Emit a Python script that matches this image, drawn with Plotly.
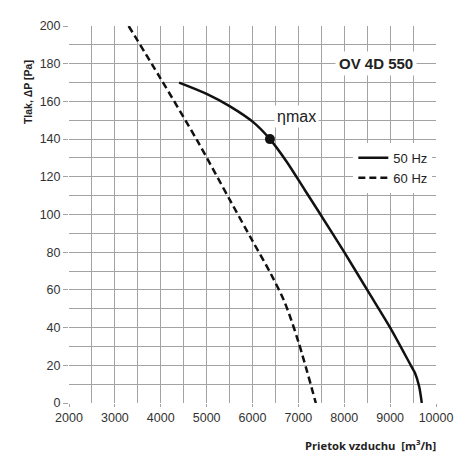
import plotly.graph_objects as go

# 50 Hz curve (solid)
flow_50 = [4400, 5000, 5500, 6015, 6380, 6745, 7140, 7430, 8000, 8500, 9000, 9450, 9540, 9630, 9690]
press_50 = [170, 164, 157.5, 149, 140, 128, 113, 102, 80, 60, 40, 20, 16, 9, 0]

# 60 Hz curve (dashed)
flow_60 = [3300, 4000, 4800, 5500, 6000, 6400, 6700, 7000, 7380]
press_60 = [200, 172, 139, 108, 86, 68.5, 53.5, 32.5, 0]

# point of max efficiency
eta_flow = [6380]
eta_press = [140]

x_ticks = [2000, 3000, 4000, 5000, 6000, 7000, 8000, 9000, 10000]
x_labels = ['2000', '3000', '4000', '5000', '6000', '7000', '8000', '9000', '10000']
y_ticks = [0, 20, 40, 60, 80, 100, 120, 140, 160, 180, 200]

font_name = 'Liberation Sans, Arial, sans-serif'
grid_col = '#a3a3a3'

fig = go.Figure()

fig.add_trace(go.Scatter(
    x=flow_50, y=press_50, mode='lines', name='50 Hz',
    line=dict(color='#111111', width=2.5, shape='spline', smoothing=0.9)
))
fig.add_trace(go.Scatter(
    x=flow_60, y=press_60, mode='lines', name='60 Hz',
    line=dict(color='#111111', width=2.5, dash='7px,4px', shape='spline', smoothing=0.9)
))
fig.add_trace(go.Scatter(
    x=eta_flow, y=eta_press, mode='markers', showlegend=False,
    marker=dict(color='#111111', size=10)
))

fig.add_annotation(x=8700, y=180, text='<b>OV 4D 550</b>', showarrow=False,
                   font=dict(size=15, color='#222222', family=font_name),
                   bgcolor='white', borderpad=3)
fig.add_annotation(x=6960, y=152, text='ηmax', showarrow=False,
                   font=dict(size=16, color='#222222', family=font_name),
                   bgcolor='white', borderpad=2)
fig.add_annotation(xref='paper', yref='paper', x=-0.1335, y=0.915,
                   text='<b>Tlak, ΔP [Pa]</b>', textangle=-90, showarrow=False,
                   font=dict(size=10.5, color='#222222', family=font_name))
fig.add_annotation(xref='paper', yref='paper', x=1.005, y=-0.111,
                   xanchor='right', yanchor='middle',
                   text='<b>Prietok vzduchu  [m<sup>3</sup>/h]</b>', showarrow=False,
                   font=dict(size=11.2, color='#222222', family='Open Sans, sans-serif'))

# page body has an 8px margin, so the figure is a bit smaller than the window
fig.update_layout(
    width=462, height=462,
    margin=dict(l=61, r=34, t=18, b=67),
    paper_bgcolor='white',
    plot_bgcolor='white',
    font=dict(family=font_name, size=12.5, color='#333333'),
    legend=dict(
        x=0.99, y=0.69, xanchor='right', yanchor='top',
        bgcolor='white', font=dict(size=13, color='#222222'),
        tracegroupgap=0, itemwidth=30
    ),
    xaxis=dict(
        range=[2000, 10000], tickvals=x_ticks, ticktext=x_labels,
        showgrid=True, gridcolor=grid_col, gridwidth=1,
        minor=dict(dtick=500, showgrid=True, gridcolor=grid_col, gridwidth=1),
        zeroline=False, showline=False,
        ticks='outside', ticklen=3, tickcolor=grid_col
    ),
    yaxis=dict(
        range=[0, 200], tickvals=y_ticks,
        showgrid=True, gridcolor=grid_col, gridwidth=1,
        minor=dict(dtick=10, showgrid=True, gridcolor=grid_col, gridwidth=1),
        zeroline=False, showline=False,
        ticks='outside', ticklen=5, tickcolor=grid_col
    )
)

fig.write_html("out.html")
